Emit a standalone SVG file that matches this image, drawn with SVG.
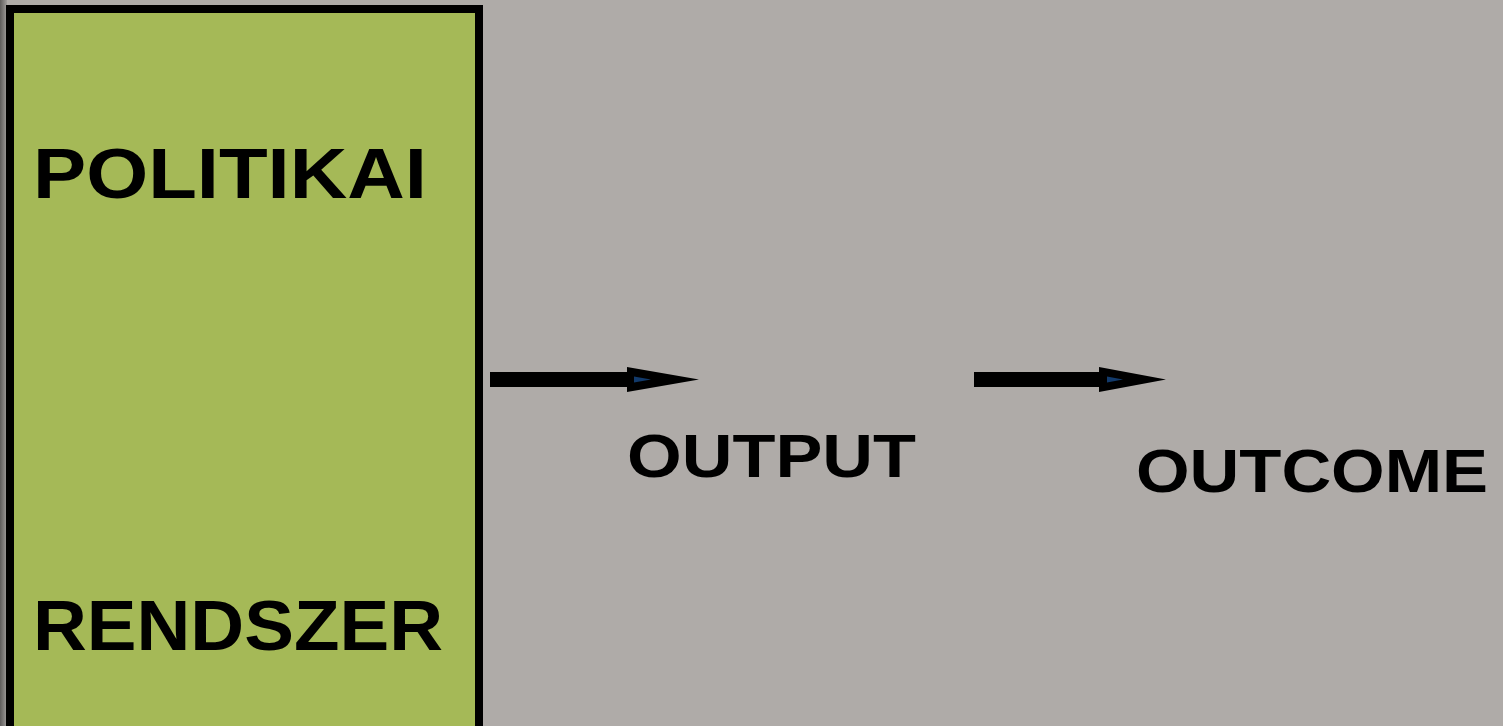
<svg xmlns="http://www.w3.org/2000/svg" width="1503" height="726" viewBox="0 0 1503 726">
<defs>
<linearGradient id="edge" x1="0" x2="1" y1="0" y2="0"><stop offset="0" stop-color="#5e5c5b"/><stop offset="1" stop-color="#a09d9b"/></linearGradient>
</defs>
<style>
.lbl{font-family:"Liberation Sans",Arial,sans-serif;font-weight:bold;fill:#000;}
.arrow{fill:#000;}
.tip{fill:#123a6b;}
</style>
<rect x="0" y="0" width="1503" height="726" fill="#afaba8"/>
<rect x="0" y="0" width="7" height="726" fill="url(#edge)"/>
<g id="node-politikai-rendszer">
<rect x="10" y="9" width="469" height="730" fill="#a5b957" stroke="#000" stroke-width="8"/>
<text class="lbl" x="33" y="198" font-size="71" textLength="394" lengthAdjust="spacingAndGlyphs">POLITIKAI</text>
<text class="lbl" x="33" y="650" font-size="71" textLength="410" lengthAdjust="spacingAndGlyphs">RENDSZER</text>
</g>
<g id="node-output">
<text class="lbl" x="627" y="477" font-size="61" textLength="289" lengthAdjust="spacingAndGlyphs">OUTPUT</text>
</g>
<g id="node-outcome">
<text class="lbl" x="1136" y="492" font-size="62" textLength="352" lengthAdjust="spacingAndGlyphs">OUTCOME</text>
</g>
<g id="connectors">
<polygon class="arrow" points="490,372 627,372 627,367 699,379.5 627,392 627,387 490,387"/>
<polygon class="tip" points="634,376.5 651,379.5 634,382.5"/>
<polygon class="arrow" points="974,372 1099,372 1099,367 1166,379.5 1099,392 1099,387 974,387"/>
<polygon class="tip" points="1107,376.5 1123,379.5 1107,382.5"/>
</g>
</svg>
